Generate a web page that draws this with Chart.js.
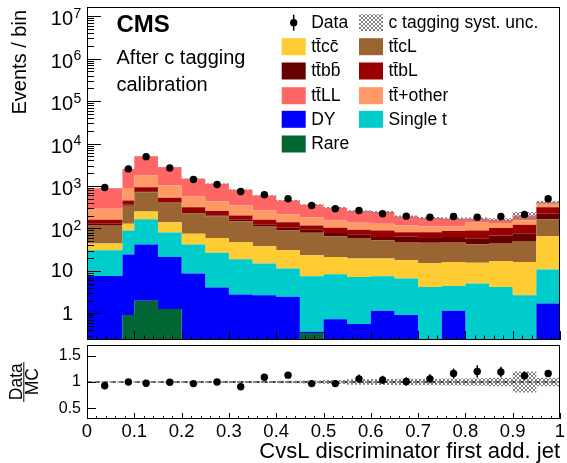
<!DOCTYPE html>
<html><head><meta charset="utf-8">
<script src="https://cdn.jsdelivr.net/npm/chart.js@4"></script>
<style>
html,body{margin:0;padding:0;background:#fff;}
#wrap{position:relative;width:567px;height:463px;overflow:hidden;}
canvas{position:absolute;left:0;top:0;}
</style></head><body>
<div id="wrap"><canvas id="main" width="567" height="463"></canvas><canvas id="ratio" width="567" height="463"></canvas></div>
<script>
// ---------------- data ----------------
const binEdges = [0,0.075,0.1,0.15,0.2,0.25,0.3,0.35,0.4,0.45,0.5,0.55,0.6,0.65,0.7,0.75,0.8,0.85,0.9,0.95,1.0];
const rare     = [0,0.91,1.98,1.26,0,0,0,0,0,0.345,0,0,0,0,0,0,0,0,0,0];
const dy       = [7.6,23.4,39.7,20,8.7,4.08,2.79,2.69,2.45,0.025,0.73,0.56,1.15,0.91,0,1.15,0,0,0,1.72];
const singleT  = [23,65.7,122.3,58.7,33,22.9,16,12.2,8.95,7.13,7.67,6.64,6.35,5.69,4.2,3.25,5.06,4.2,2.69,9.08];
const ttcc     = [13.4,40,88,61,33.3,32.6,29.2,23.1,19.2,15.8,12.9,12.4,12.1,11.2,11.2,11.9,10.6,13,13.6,55.2];
const ttcL     = [76,213,464,262,155,132,101,76,59.4,55.7,44.7,40,33.1,30.2,31,31.7,26.7,28.2,34.4,98];
const ttbb     = [10,19,39,14,13,11,12,9,14,14.5,12,13.1,10.3,17,13.2,15,15.2,22.6,24.8,58];
const ttbL     = [31,95,182,110,75,54,42,38,37,24.5,26,20.8,27,17,22.4,24,32.4,34,47.5,96];
const ttOther  = [129,403,826,503,249,183,145,105,73,67,51,43.5,40,36,30,25,51,32,32,65];
const ttLL     = [600,1675,3237,1730,909,685,466,332,243,177,153,120,113,74,64,58,29,27,48,34];
const dataVals = [922,2535,4920,2674,1421,1085,743,621,500,348,292,266,222,195,185,192,185,192,214,500];
const ratioVals= [0.93,1.0,0.975,0.995,0.97,1.0,0.91,1.09,1.13,0.97,0.97,1.06,1.04,1.01,1.06,1.16,1.2,1.19,1.12,1.16];
const ratioErr = [0.03,0.02,0.015,0.02,0.03,0.03,0.035,0.04,0.045,0.055,0.06,0.08,0.08,0.08,0.085,0.095,0.115,0.1,0.08,0.06];
const systRel  = [0.01,0.01,0.01,0.012,0.015,0.015,0.018,0.02,0.025,0.03,0.04,0.05,0.055,0.06,0.06,0.065,0.07,0.08,0.2,0.08];
const yMajorTicks = [1,10,100,1000,10000,100000,1000000,10000000];
const yMajorLabels = [['1',''],['10',''],['10','2'],['10','3'],['10','4'],['10','5'],['10','6'],['10','7']];
const ratioTicks = [0.5,1,1.5];
const ratioTickLabels = ['0.5','1','1.5'];

// stack order bottom -> top
const stackNames  = ['Rare','DY','Single t','tt\u0304cc\u0304','tt\u0304cL','tt\u0304bb\u0304','tt\u0304bL','tt\u0304+other','tt\u0304LL'];
const stackValues = [rare,dy,singleT,ttcc,ttcL,ttbb,ttbL,ttOther,ttLL];
const stackColors = ['#006633','#0000ff','#00cccc','#ffcc33','#996633','#660000','#990000','#ff9966','#ff6666'];

const FONT = "'Liberation Sans', Arial, Helvetica, sans-serif";
const nb = binEdges.length - 1;
const centers = dataVals.map((_, i) => (binEdges[i] + binEdges[i+1]) / 2);

// cumulative stack
const cum = [];
stackValues.forEach((arr, k) => {
  cum.push(arr.map((v, i) => (k ? cum[k-1][i] : 0) + v));
});
const total = cum[cum.length-1];
// points at the bin edges; values below the axis floor are clamped so the log scale keeps them
function stepPts(vals){ return binEdges.map((e, j) => ({x: e, y: Math.max(vals[Math.min(j, nb-1)], 0.01)})); }

function makeHatch(){
  const c = document.createElement('canvas'); c.width = 4; c.height = 4;
  const g = c.getContext('2d');
  g.strokeStyle = '#808080'; g.lineWidth = 1;
  g.beginPath(); g.moveTo(0,0); g.lineTo(4,4); g.moveTo(4,0); g.lineTo(0,4); g.stroke();
  return g.createPattern(c, 'repeat');
}
const hatch = makeHatch();

// ---------------- main panel ----------------
const mainDatasets = stackValues.map((_, k) => ({
  label: stackNames[k], data: stepPts(cum[k]), stepped: 'before',
  fill: k === 0 ? 'start' : '-1', backgroundColor: stackColors[k],
  borderWidth: 0, pointRadius: 0, order: 3
}));
mainDatasets.push({label:'syst lo', data: stepPts(total.map((t,i)=>t*(1-systRel[i]))), stepped:'before', fill:false, borderWidth:0, pointRadius:0, order:2});
mainDatasets.push({label:'syst hi', data: stepPts(total.map((t,i)=>t*(1+systRel[i]))), stepped:'before', fill:'-1', backgroundColor: hatch, borderWidth:0, pointRadius:0, order:2});
mainDatasets.push({label:'Data', data: centers.map((x,i)=>({x, y:dataVals[i]})), showLine:false, pointRadius:3.7, pointBackgroundColor:'#000', pointBorderWidth:0, order:0});

function drawTicksX(ctx, xs, area, majLen, minLen){
  ctx.save(); ctx.strokeStyle = '#000'; ctx.lineWidth = 1; ctx.beginPath();
  for (let i = 0; i <= 50; i++){
    const v = i / 50; const px = Math.round(xs.getPixelForValue(v)) + 0.5;
    const len = (i % 5 === 0) ? majLen : minLen;
    ctx.moveTo(px, area.bottom); ctx.lineTo(px, area.bottom - len);
  }
  ctx.stroke(); ctx.restore();
}

const mainPlugin = {
  id: 'mainDeco',
  afterDraw(chart){
    const ctx = chart.ctx, a = chart.chartArea, xs = chart.scales.x, ys = chart.scales.y;
    ctx.save();
    // y ticks (inward)
    ctx.strokeStyle = '#000'; ctx.lineWidth = 1; ctx.beginPath();
    for (let d = -1; d <= 7; d++){
      for (let m = 1; m <= 9; m++){
        const v = m * Math.pow(10, d);
        if (v < ys.min || v > ys.max) continue;
        const py = Math.round(ys.getPixelForValue(v)) + 0.5;
        const len = m === 1 ? 14 : 7;
        ctx.moveTo(a.left, py); ctx.lineTo(a.left + len, py);
      }
    }
    ctx.stroke();
    drawTicksX(ctx, xs, a, 9, 4.5);
    // frame
    ctx.lineWidth = 1; ctx.strokeRect(a.left + 0.5, a.top + 0.5, a.right - a.left - 1, a.bottom - a.top - 1);
    // y labels
    ctx.fillStyle = '#000';
    yMajorTicks.forEach((v, i) => {
      const py = ys.getPixelForValue(v);
      const [base, exp] = yMajorLabels[i];
      const right = 73;
      ctx.font = '20px ' + FONT; ctx.textAlign = 'right'; ctx.textBaseline = 'middle';
      if (exp){
        ctx.fillText(base, right, py + 3.5);
        ctx.font = '14px ' + FONT; ctx.textAlign = 'left'; ctx.textBaseline = 'alphabetic';
        ctx.fillText(exp, right + 0.5, py + 1.5);
      } else {
        ctx.fillText(base, right, py + 1);
      }
    });
    // y title
    ctx.save(); ctx.translate(25.5, 10); ctx.rotate(-Math.PI/2);
    ctx.font = '20px ' + FONT; ctx.textAlign = 'right'; ctx.textBaseline = 'alphabetic';
    ctx.fillText('Events / bin', 0, 0); ctx.restore();
    // CMS labels
    ctx.textAlign = 'left'; ctx.textBaseline = 'alphabetic';
    ctx.font = 'bold 24px ' + FONT; ctx.fillText('CMS', 116.5, 32);
    ctx.font = '20px ' + FONT;
    ctx.fillText('After c tagging', 116.5, 64.3);
    ctx.fillText('calibration', 116.5, 90.7);
    // legend
    const rows = [22.7, 46.7, 71, 95.7, 119.3, 144];
    const c1 = 281.7, c2 = 359, bw = 24, bh = 17;
    const entries = [
      {col:0,row:0,type:'data',text:'Data'},
      {col:1,row:0,type:'hatch',text:'c tagging syst. unc.'},
      {col:0,row:1,color:stackColors[3],text:stackNames[3]},
      {col:1,row:1,color:stackColors[4],text:stackNames[4]},
      {col:0,row:2,color:stackColors[5],text:stackNames[5]},
      {col:1,row:2,color:stackColors[6],text:stackNames[6]},
      {col:0,row:3,color:stackColors[8],text:stackNames[8]},
      {col:1,row:3,color:stackColors[7],text:stackNames[7]},
      {col:0,row:4,color:stackColors[1],text:stackNames[1]},
      {col:1,row:4,color:stackColors[2],text:stackNames[2]},
      {col:0,row:5,color:stackColors[0],text:stackNames[0]}
    ];
    ctx.font = '17.5px ' + FONT; ctx.textBaseline = 'middle';
    entries.forEach(e => {
      const bx = e.col ? c2 : c1, yc = rows[e.row];
      if (e.type === 'data'){
        ctx.beginPath(); ctx.moveTo(bx + 12, yc - 8); ctx.lineTo(bx + 12, yc + 8); ctx.lineWidth = 1.5; ctx.stroke();
        ctx.beginPath(); ctx.arc(bx + 12, yc, 3.7, 0, Math.PI*2); ctx.fill();
      } else if (e.type === 'hatch'){
        ctx.fillStyle = hatch; ctx.fillRect(bx, yc - bh/2, bw, bh); ctx.fillStyle = '#000';
      } else {
        ctx.fillStyle = e.color; ctx.fillRect(bx, yc - bh/2, bw, bh); ctx.fillStyle = '#000';
      }
      ctx.fillText(e.text, bx + 29.5, yc + 0.5);
    });
    ctx.restore();
  }
};

new Chart(document.getElementById('main'), {
  type: 'line',
  data: { datasets: mainDatasets },
  options: {
    responsive: false, animation: false, devicePixelRatio: 1,
    layout: { padding: { left: 87, right: 7, top: 7, bottom: 123 } },
    plugins: { legend: { display: false }, tooltip: { enabled: false } },
    scales: {
      x: { type: 'linear', min: 0, max: 1, display: false },
      y: { type: 'logarithmic', min: 0.236, max: 1.65e7, display: false }
    }
  },
  plugins: [mainPlugin]
});

// ---------------- ratio panel ----------------
const ratioDatasets = [
  {label:'unc lo', data: stepPts(systRel.map(u=>1-u)), stepped:'before', fill:false, borderWidth:0, pointRadius:0, order:3},
  {label:'unc hi', data: stepPts(systRel.map(u=>1+u)), stepped:'before', fill:'-1', backgroundColor: hatch, borderWidth:0, pointRadius:0, order:3},
  {label:'one', data: [{x:0,y:1},{x:1,y:1}], borderColor:'#000', borderWidth:1, borderDash:[5,3], pointRadius:0, fill:false, order:2},
  {label:'ratio', data: centers.map((x,i)=>({x, y:ratioVals[i]})), showLine:false, pointRadius:3.7, pointBackgroundColor:'#000', pointBorderWidth:0, order:0}
];

const ratioPlugin = {
  id: 'ratioDeco',
  afterDatasetsDraw(chart){
    const ctx = chart.ctx, xs = chart.scales.x, ys = chart.scales.y;
    ctx.save(); ctx.strokeStyle = '#000'; ctx.lineWidth = 1.5; ctx.beginPath();
    centers.forEach((c, i) => {
      const px = xs.getPixelForValue(c);
      ctx.moveTo(px, ys.getPixelForValue(ratioVals[i] - ratioErr[i]));
      ctx.lineTo(px, ys.getPixelForValue(ratioVals[i] + ratioErr[i]));
    });
    ctx.stroke(); ctx.restore();
  },
  afterDraw(chart){
    const ctx = chart.ctx, a = chart.chartArea, xs = chart.scales.x, ys = chart.scales.y;
    ctx.save(); ctx.strokeStyle = '#000'; ctx.lineWidth = 1;
    ctx.beginPath();
    ratioTicks.forEach(v => { const py = Math.round(ys.getPixelForValue(v)) + 0.5; ctx.moveTo(a.left, py); ctx.lineTo(a.left + 9, py); });
    ctx.stroke();
    drawTicksX(ctx, xs, a, 6, 3);
    ctx.strokeRect(a.left + 0.5, a.top + 0.5, a.right - a.left - 1, a.bottom - a.top - 1);
    // Data / MC fraction title
    ctx.fillStyle = '#000'; ctx.font = '17.5px ' + FONT; ctx.textAlign = 'center';
    ctx.save(); ctx.translate(21.7, 381.7); ctx.rotate(-Math.PI/2); ctx.textBaseline = 'alphabetic'; ctx.fillText('Data', 0, 0); ctx.restore();
    ctx.save(); ctx.translate(38.3, 381.7); ctx.rotate(-Math.PI/2); ctx.textBaseline = 'alphabetic'; ctx.fillText('MC', 0, 0); ctx.restore();
    ctx.beginPath(); ctx.moveTo(23.8, 362); ctx.lineTo(23.8, 402); ctx.lineWidth = 1; ctx.stroke();
    ctx.restore();
  }
};

new Chart(document.getElementById('ratio'), {
  type: 'line',
  data: { datasets: ratioDatasets },
  options: {
    responsive: false, animation: false, devicePixelRatio: 1,
    layout: { padding: { left: 0, right: 7, top: 345, bottom: 0 } },
    plugins: { legend: { display: false }, tooltip: { enabled: false } },
    scales: {
      x: {
        type: 'linear', min: 0, max: 1,
        grid: { display: false, drawTicks: false }, border: { display: false },
        ticks: { stepSize: 0.1, color: '#000', font: { family: FONT, size: 18.5 }, padding: 2, maxRotation: 0, autoSkip: false,
                 callback: (v) => String(Math.round(v * 10) / 10) },
        title: { display: true, text: 'CvsL discriminator first add. jet', align: 'end', color: '#000', font: { family: FONT, size: 22, lineHeight: 1.0 }, padding: 0 },
        afterFit(s){ s.height = 44; s.paddingLeft = 0; s.paddingRight = 0; }
      },
      y: {
        type: 'linear', min: 0.3, max: 1.7,
        grid: { display: false, drawTicks: false }, border: { display: false },
        afterBuildTicks(s){ s.ticks = ratioTicks.map(v => ({value: v})); },
        ticks: { color: '#000', font: { family: FONT, size: 16 }, padding: 6, autoSkip: false,
                 callback: (v) => { const i = ratioTicks.indexOf(v); return i >= 0 ? ratioTickLabels[i] : ''; } },
        afterFit(s){ s.width = 87; s.paddingTop = 0; s.paddingBottom = 0; }
      }
    }
  },
  plugins: [ratioPlugin]
});
</script>
</body></html>
